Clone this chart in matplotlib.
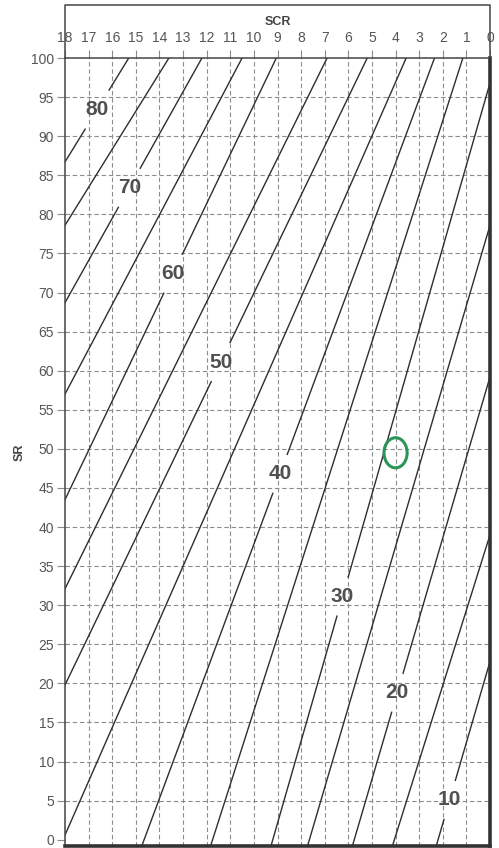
import numpy as np
import matplotlib
matplotlib.use("Agg")
import matplotlib.pyplot as plt
from matplotlib.patches import Ellipse

plt.rcParams['font.family'] = ['Liberation Sans', 'DejaVu Sans']

# axis ticks
scr_ticks = list(range(18, -1, -1))
sr_ticks = list(range(0, 101, 5))

# isolines: each one given by two points (SCR, SR) where it meets the frame
iso_values = [80, 75, 70, 65, 60, 55, 50, 45, 40, 35, 30, 25, 20, 15, 10]
iso_scr_a = [18, 18, 18, 18, 18, 18, 18, 18, 14.65, 11.75, 9.2, 7.65, 5.75, 4.05, 2.2]
iso_sr_a = [86.7, 78.6, 68.7, 57.0, 43.5, 32.1, 19.8, 0.6, 0, 0, 0, 0, 0, 0, 0]
iso_scr_b = [15.3, 13.6, 12.2, 10.5, 9.05, 6.9, 5.2, 3.55, 2.35, 1.15, 0, 0, 0, 0, 0]
iso_sr_b = [100, 100, 100, 100, 100, 100, 100, 100, 100, 100, 96.8, 78.6, 59.2, 39.0, 22.8]

# which isolines carry a number, and the SR level where the number sits
labeled_values = [80, 70, 60, 50, 40, 30, 20, 10]
label_sr = [93.4, 83.4, 72.4, 61.1, 46.8, 31.1, 18.8, 5.1]

# highlighted point
point_scr = 4.0
point_sr = 49.5

fig = plt.figure(figsize=(4.99, 8.48), dpi=100)
ax = fig.add_axes([65 / 499, 2 / 848, 425 / 499, 788 / 848])
ax.set_xlim(18, 0)
ax.set_ylim(-0.8, 100)

grid_kw = dict(color='#8c8c8c', linewidth=0.8, linestyle=(0, (4, 2.5)), zorder=1)
for v in scr_ticks[1:-1]:
    ax.axvline(v, **grid_kw)
for v in sr_ticks[1:-1]:
    ax.axhline(v, **grid_kw)

gap = 2.5
line_kw = dict(color='#2e2e2e', linewidth=1.0, zorder=2)
for val, xa, ya, xb, yb in zip(iso_values, iso_scr_a, iso_sr_a, iso_scr_b, iso_sr_b):
    def scr_at(sr):
        return xa + (xb - xa) * (np.asarray(sr) - ya) / (yb - ya)

    if val in labeled_values:
        ls = label_sr[labeled_values.index(val)]
        pieces = [(-5, ls - gap), (ls + gap, 105)]
        ax.text(scr_at(ls), ls, str(val), ha='center', va='center',
                fontsize=15, fontweight='bold', color='#505050', zorder=3)
    else:
        pieces = [(-5, 105)]
    for lo, hi in pieces:
        sr = np.array([lo, hi])
        ax.plot(scr_at(sr), sr, **line_kw)

ax.add_patch(Ellipse((point_scr, point_sr), width=0.98, height=3.85,
                     fill=False, edgecolor='#2a9558', linewidth=2.2, zorder=4))

# ticks and labels
ax.xaxis.tick_top()
ax.xaxis.set_label_position('top')
ax.set_xticks(scr_ticks)
ax.set_yticks(sr_ticks)
ax.tick_params(axis='both', colors='#8c8c8c', labelcolor='#555555',
               labelsize=10, length=6, width=0.8)
ax.tick_params(axis='x', pad=3)
ax.tick_params(axis='y', pad=2)
ax.set_xlabel('SCR', fontsize=9, fontweight='bold', color='#444444', labelpad=5)
ax.set_ylabel('SR', fontsize=9, fontweight='bold', color='#444444', labelpad=4)

for side in ['left', 'top']:
    ax.spines[side].set_color('#444444')
    ax.spines[side].set_linewidth(1.1)
for side in ['right', 'bottom']:
    ax.spines[side].set_color('#333333')
    ax.spines[side].set_linewidth(2.6)

# box around the header strip with the SCR scale
ax.plot([0, 0, 1, 1], [1, 1.067, 1.067, 1], transform=ax.transAxes,
        color='#444444', linewidth=1.1, clip_on=False, zorder=5)

fig.savefig('out.png', dpi=100)
